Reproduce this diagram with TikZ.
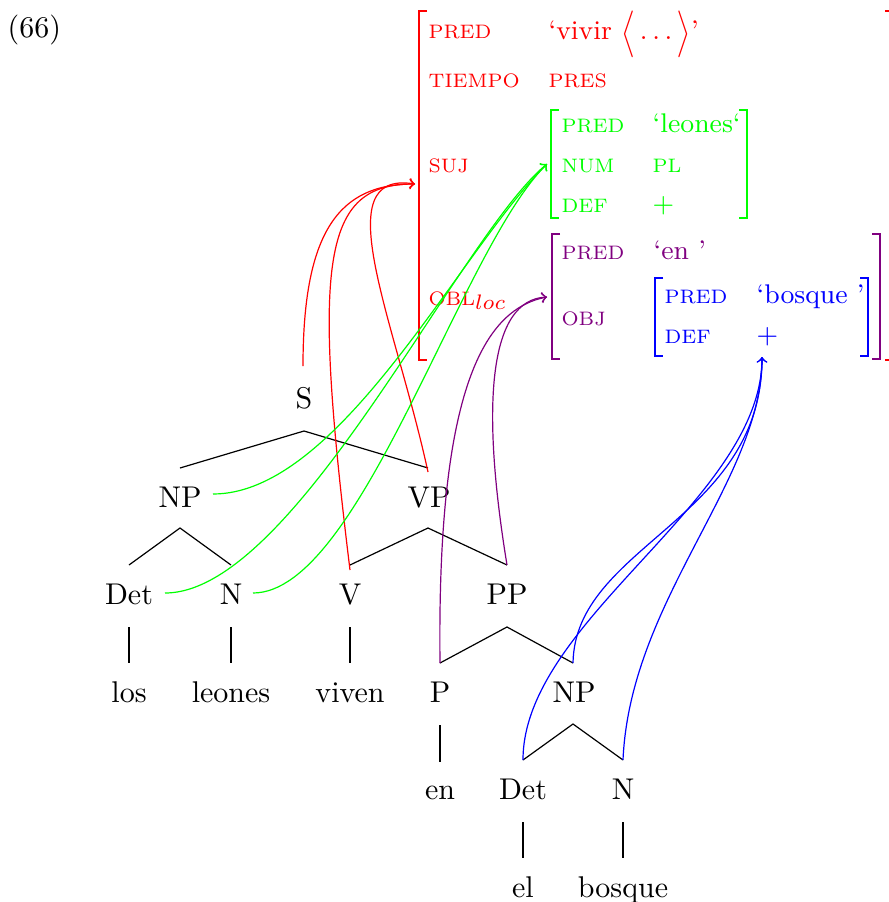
\documentclass[tikz,border=0pt]{standalone}
\usepackage{fontspec}
\usepackage{graphicx}
\newcommand{\myangl}{\raisebox{-1.3pt}{\scalebox{1}[1.3]{$\big\langle$}}}
\newcommand{\myangr}{\raisebox{-1.3pt}{\scalebox{1}[1.3]{$\big\rangle$}}}
\begin{document}
\begin{tikzpicture}[x=0.33333pt,y=-0.33333pt,
  feat/.style={anchor=base west, inner sep=0pt, font=\fontsize{6.5pt}{8pt}\selectfont},
  val/.style={anchor=base west, inner sep=0pt, font=\small},
  cat/.style={anchor=base, inner sep=0pt},
  brk/.style={line width=0.6pt},
  edge/.style={line width=0.4pt},
  link/.style={->, line width=0.4pt}]
\useasboundingbox (0,0) rectangle (889,902);
\clip (0,0) rectangle (889,902);

\node[anchor=base west, inner sep=0pt] (ex) at (7,37) {(66)};

% ---------- outer red AVM ----------
\draw[red,brk] (427,11) -- (419,11) -- (419,360) -- (427,360);
\draw[red,brk] (885,11) -- (893,11) -- (893,360) -- (885,360);
\node[feat,red] (fpred) at (428,38) {PRED};
\node[val,red] (vpred) at (548,39) {‘vivir \myangl$\,\ldots\,$\myangr’};
\node[feat,red] (ftiempo) at (428,87) {TIEMPO};
\node[feat,red] (vtiempo) at (548,87) {PRES};
\node[feat,red] (fsuj) at (428,172) {SUJ};
\node[anchor=base west, inner sep=0pt, red] (fobl) at (428,305) {{\fontsize{6.5pt}{8pt}\selectfont OBL}$_{loc}$};

% ---------- green AVM ----------
\draw[green,brk] (559,110) -- (551,110) -- (551,218) -- (559,218);
\draw[green,brk] (739,110) -- (747,110) -- (747,218) -- (739,218);
\node[feat,green] (gpred) at (561,132) {PRED};
\node[val,green] (gvpred) at (652,132) {‘leones‘};
\node[feat,green] (gnum) at (561,172) {NUM};
\node[feat,green] (gvnum) at (652,172) {PL};
\node[feat,green] (gdef) at (561,212) {DEF};
\node[val,green] (gvdef) at (652,212) {$+$};

% ---------- purple AVM ----------
\draw[violet,brk] (560,234) -- (552,234) -- (552,359) -- (560,359);
\draw[violet,brk] (872,234) -- (880,234) -- (880,359) -- (872,359);
\node[feat,violet] (ppred) at (561,259) {PRED};
\node[val,violet] (pvpred) at (653,259) {‘en ’};
\node[feat,violet] (pobj) at (561,325) {OBJ};

% ---------- blue AVM ----------
\draw[blue,brk] (663,278) -- (655,278) -- (655,356) -- (663,356);
\draw[blue,brk] (860,278) -- (868,278) -- (868,356) -- (860,356);
\node[feat,blue] (bpred) at (664,303) {PRED};
\node[val,blue] (bvpred) at (756,303) {‘bosque ’};
\node[feat,blue] (bdef) at (664,343) {DEF};
\node[val,blue] (bvdef) at (756,343) {$+$};

% ---------- tree ----------
\node[cat] (S) at (304,408) {S};
\node[cat] (NPa) at (180,507) {NP};
\node[cat] (VP) at (429,507) {VP};
\node[cat] (Deta) at (129,604) {Det};
\node[cat] (Na) at (231,604) {N};
\node[cat] (V) at (350,604) {V};
\node[cat] (PP) at (507,604) {PP};
\node[cat] (los) at (129,702) {los};
\node[cat] (leones) at (231,702) {leones};
\node[cat] (viven) at (350,702) {viven};
\node[cat] (P) at (440,702) {P};
\node[cat] (NPb) at (574,702) {NP};
\node[cat] (en) at (440,799) {en};
\node[cat] (Detb) at (523,799) {Det};
\node[cat] (Nb) at (623,799) {N};
\node[cat] (el) at (523,897) {el};
\node[cat] (bosque) at (623,897) {bosque};

% edge points
\coordinate (Sb) at (304,431);
\coordinate (NPat) at (180,468);
\coordinate (VPt) at (428,468);
\coordinate (NPab) at (180,528);
\coordinate (Detat) at (129,565);
\coordinate (Nat) at (231,565);
\coordinate (VPb) at (428,528);
\coordinate (Vt) at (350,565);
\coordinate (PPt) at (507,565);
\coordinate (Detab) at (129,627);
\coordinate (losT) at (129,663);
\coordinate (Nab) at (231,627);
\coordinate (leonesT) at (231,663);
\coordinate (Vb) at (350,627);
\coordinate (vivenT) at (350,663);
\coordinate (PPb) at (507,627);
\coordinate (Pt) at (440,663);
\coordinate (NPbt) at (573,663);
\coordinate (Pb) at (440,725);
\coordinate (enT) at (440,762);
\coordinate (NPbb) at (573,724);
\coordinate (Detbt) at (523,760);
\coordinate (Nbt) at (623,760);
\coordinate (Detbb) at (523,822);
\coordinate (elT) at (523,858);
\coordinate (Nbb) at (623,822);
\coordinate (bosqueT) at (623,858);

\draw[edge] (NPat) -- (Sb) -- (VPt);
\draw[edge] (Detat) -- (NPab) -- (Nat);
\draw[edge] (Vt) -- (VPb) -- (PPt);
\draw[edge] (Detab) -- (losT);
\draw[edge] (Nab) -- (leonesT);
\draw[edge] (Vb) -- (vivenT);
\draw[edge] (Pt) -- (PPb) -- (NPbt);
\draw[edge] (Pb) -- (enT);
\draw[edge] (Detbt) -- (NPbb) -- (Nbt);
\draw[edge] (Detbb) -- (elT);
\draw[edge] (Nbb) -- (bosqueT);

% ---------- links ----------
\coordinate (sujtip) at (415,184);
\coordinate (greentip) at (547,164);
\coordinate (obltip) at (547,297);
\coordinate (bluetip) at (762,357);

\coordinate (Sc) at (303,366);
\coordinate (Vc) at (350,570);
\coordinate (VPc) at (428,472);
\draw[link,red] (Sc) .. controls (303,230) and (340,184) .. (sujtip);
\draw[link,red] (Vc) .. controls (312,260) and (322,184) .. (sujtip);
\draw[link,red] (VPc) .. controls (395,320) and (325,170) .. (sujtip);

\coordinate (NPac) at (213,494);
\coordinate (Detac) at (165,593);
\coordinate (Nac) at (253,593);
\draw[link,green] (NPac) .. controls (340,494) and (460,250) .. (greentip);
\draw[link,green] (Detac) .. controls (295,593) and (460,235) .. (greentip);
\draw[link,green] (Nac) .. controls (360,593) and (460,250) .. (greentip);

\draw[link,violet] (Pt) .. controls (437,400) and (480,310) .. (obltip);
\draw[link,violet] (PPt) .. controls (480,400) and (490,300) .. (obltip);

\draw[link,blue] (Detbt) .. controls (523,620) and (762,500) .. (bluetip);
\draw[link,blue] (NPbt) .. controls (575,545) and (762,520) .. (bluetip);
\draw[link,blue] (Nbt) .. controls (630,600) and (762,480) .. (bluetip);
\end{tikzpicture}
\end{document}
